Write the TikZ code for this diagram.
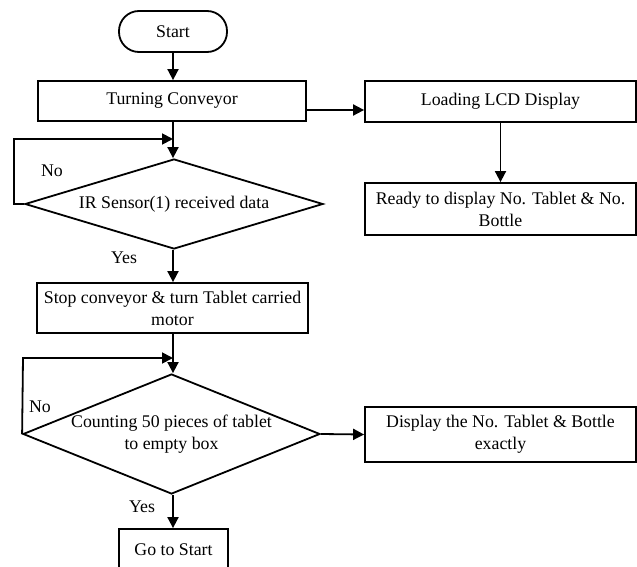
\documentclass[tikz,border=0pt]{standalone}
\usepackage{fontspec}
\setmainfont{Liberation Serif}
\usetikzlibrary{shapes.geometric,arrows.meta}

\tikzset{
  flow/.style={line width=1.8pt, -{Triangle[length=11pt,width=11pt]}},
  procbox/.style={draw, line width=1.8pt, rectangle, inner sep=2pt, align=center,
    font=\fontsize{17.8}{22}\selectfont},
  termbox/.style={draw, line width=1.8pt, rectangle, rounded corners=20pt,
    inner sep=2pt, font=\fontsize{17.8}{22}\selectfont},
  decision/.style={draw, line width=1.8pt, diamond, inner sep=0pt, align=center,
    font=\fontsize{17.8}{22}\selectfont},
  tag/.style={font=\fontsize{17.8}{22}\selectfont, inner sep=0pt},
}

\begin{document}
\begin{tikzpicture}[x=1pt,y=-1pt]
  \useasboundingbox (0,0) rectangle (637,567);

  % main column
  \node[termbox, minimum width=108pt, minimum height=41pt] (start) at (173,31.5) {Start};
  \node[procbox, minimum width=268pt, minimum height=40pt] (turn) at (172,101) {Turning Conveyor};
  \node[decision, aspect=3.3, minimum width=298pt, minimum height=90pt] (ir) at (174,204)
    {IR Sensor(1) received data};
  \node[procbox, minimum width=271pt, minimum height=50pt] (stop) at (172.5,308)
    {Stop conveyor \& turn Tablet carried\\motor};
  \node[decision, aspect=2.47, minimum width=297pt, minimum height=120pt] (count) at (171.5,434)
    {Counting 50 pieces of tablet\\to empty box};
  \node[procbox, minimum width=109pt, minimum height=41pt] (goto) at (173.5,549.5) {Go to Start};

  % display column
  \node[procbox, minimum width=271pt, minimum height=41pt] (lcd) at (500.5,101.5) {Loading LCD Display};
  \node[procbox, minimum width=271pt, minimum height=52pt] (ready) at (500.5,209)
    {Ready to display No. Tablet \& No.\\Bottle};
  \node[procbox, minimum width=271pt, minimum height=55pt] (show) at (500.5,434.5)
    {Display the No. Tablet \& Bottle\\exactly};

  % loop joints and corners
  \coordinate (lcdy) at (0,110);
  \coordinate (j1) at (173,139);
  \coordinate (c1) at (14,139);
  \coordinate (j2) at (173,358);
  \coordinate (c2) at (23,358);

  % connectors
  \draw[flow] (start) -- (turn.north -| start);
  \draw[flow] (turn.south -| j1) -- (ir.north -| j1);
  \draw[flow] (turn.east |- lcdy) -- (lcd.west |- lcdy);
  \draw[flow] (lcd) -- (ready.north -| lcd);
  \draw[flow] (ir.west) -- (ir.west -| c1) -- (c1) -- (j1);
  \draw[flow] (ir.south -| j1) -- (stop.north -| j1);
  \draw[flow] (stop.south -| j2) -- (count.north -| j2);
  \draw[flow] (count.west) -- (c2) -- (j2);
  \draw[flow] (count.east) -- (show.west);
  \draw[flow] (count.south -| j2) -- (goto.north -| j2);

  % branch labels
  \node[tag] (no1) at (52,171) {No};
  \node[tag] (yes1) at (124,258) {Yes};
  \node[tag] (no2) at (40,407) {No};
  \node[tag] (yes2) at (142,507) {Yes};
\end{tikzpicture}
\end{document}
